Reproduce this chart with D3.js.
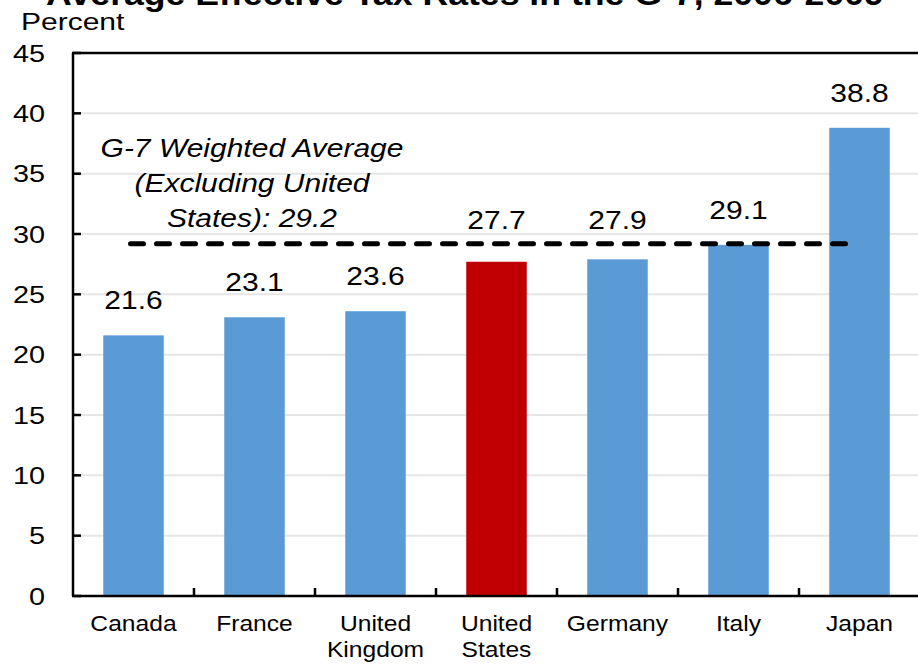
<!DOCTYPE html>
<html><head><meta charset="utf-8">
<script src="https://cdn.jsdelivr.net/npm/d3@7"></script>
<style>body{margin:0;background:#fff}svg{display:block}text{font-family:Arial,"Liberation Sans",sans-serif}</style>
</head><body><svg id="c" width="918" height="664"></svg>
<script>
const categories = ["Canada","France","United\nKingdom","United\nStates","Germany","Italy","Japan"];
const values = [21.6, 23.1, 23.6, 27.7, 27.9, 29.1, 38.8];
const highlight = "United\nStates";
const average = 29.2;
const averageLabel = ["G-7 Weighted Average","(Excluding United","States): 29.2"];
const yTicks = [0,5,10,15,20,25,30,35,40,45];
const title = "Average Effective Tax Rates in the G-7, 2006-2009";
const yTitle = "Percent";

const svg = d3.select("#c");
const x = d3.scaleBand().domain(categories).range([73, 920]).paddingInner(0.5).paddingOuter(0.25);
const y = d3.scaleLinear().domain([0,45]).range([596, 53]);

function txt(g, s, px, py, size, opts={}) {
  const sx = opts.sx || 1.15;
  return g.append("text").attr("transform", `translate(${px},${py}) scale(${sx},1)`)
    .attr("text-anchor", opts.anchor||"middle").attr("font-size", size)
    .attr("font-weight", opts.weight||"normal").attr("font-style", opts.style||"normal")
    .attr("fill", "#000").text(s);
}

// gridlines
svg.append("g").selectAll("line").data(yTicks.filter(t=>t>0&&t<45)).join("line")
  .attr("x1", 80).attr("x2", 918).attr("y1", d=>y(d)).attr("y2", d=>y(d))
  .attr("stroke", "#e6e6e6").attr("stroke-width", 2);

// bars
svg.append("g").selectAll("rect").data(categories).join("rect")
  .attr("x", d=>x(d)).attr("width", x.bandwidth())
  .attr("y", (d,i)=>y(values[i])).attr("height", (d,i)=>y(0)-y(values[i]))
  .attr("fill", d=>d===highlight?"#C00000":"#5B9BD5");

// axes frame
const ax = svg.append("g").attr("stroke", "#000").attr("stroke-width", 2.5);
ax.append("line").attr("x1", 73).attr("x2", 73).attr("y1", y(45)).attr("y2", y(0));
ax.append("line").attr("x1", 72).attr("x2", 918).attr("y1", y(0)).attr("y2", y(0));
ax.append("line").attr("x1", 72).attr("x2", 918).attr("y1", y(45)).attr("y2", y(45));
ax.selectAll(".yt").data(yTicks).join("line").attr("class","yt")
  .attr("x1", 73).attr("x2", 81).attr("y1", d=>y(d)).attr("y2", d=>y(d));
const bounds = categories.slice(1).map(c => x(c) - x.step()*x.paddingInner()/2);
ax.selectAll(".xt").data(bounds).join("line").attr("class","xt")
  .attr("x1", d=>d).attr("x2", d=>d).attr("y1", y(0)).attr("y2", y(0)-8);

// y tick labels
const gl = svg.append("g");
yTicks.forEach(t => txt(gl, t, 45, y(t)+8.5, 24, {anchor:"end", sx:1.2}));

// category labels
categories.forEach(c => {
  c.split("\n").forEach((line, j) => txt(gl, line, x(c)+x.bandwidth()/2, 631 + j*26, 22, {sx:1.12}));
});

// average dashed line
svg.append("line")
  .attr("x1", x(categories[0])+x.bandwidth()/2 - 3)
  .attr("x2", x(categories[categories.length-1])+x.bandwidth()/2 - 2)
  .attr("y1", y(average)).attr("y2", y(average))
  .attr("stroke", "#000").attr("stroke-width", 5)
  .attr("stroke-dasharray", "13 13").attr("stroke-linecap", "round");

// value labels
categories.forEach((c,i) => {
  let by = y(values[i]) - 26;
  if (Math.abs(values[i] - average) < 2.5) by = Math.min(by, y(average) - 15);
  txt(gl, values[i].toFixed(1), x(c)+x.bandwidth()/2, by, 25, {sx:1.2});
});

// average annotation
averageLabel.forEach((s,j) => txt(gl, s, 252, 157 + j*35, 25, {style:"italic", sx:1.2}));

// titles
txt(gl, title, 465, 5, 31, {weight:"bold"});
txt(gl, yTitle, 21, 30, 24, {anchor:"start", sx:1.25});
</script></body></html>
